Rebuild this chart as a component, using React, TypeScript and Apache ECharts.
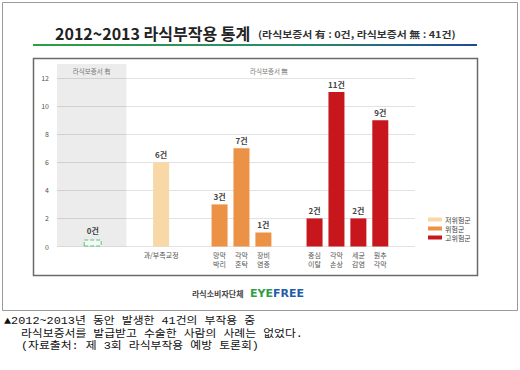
import React, { useEffect, useRef } from "react";
import * as echarts from "echarts";

// ---- data ----
const categories = ["과/부족교정", "망막\n박리", "각막\n혼탁", "장비\n염증", "중심\n이탈", "각막\n손상", "세균\n감염", "원추\n각막"];
const values = [6, 3, 7, 1, 2, 11, 2, 9];
const riskOf = [0, 1, 1, 1, 2, 2, 2, 2];
const riskNames = ["저위험군", "위험군", "고위험군"];
const riskColors = ["#f7d8a6", "#ec9246", "#c8161d"];
const warrantyCount = 0; // 라식보증서 有
const yTicks = [0, 2, 4, 6, 8, 10, 12];

// ---- layout (slot positions on the category axis) ----
const SLOT_COUNT = 98;
const catSlots = [28, 44, 50, 56, 70, 76, 82, 88];
const warrantySlot = 9;
const bandWithStart = 0;
const bandWithEnd = 18;
const bandWithoutEnd = SLOT_COUNT - 1;

const FONT = "'Noto Sans CJK KR', 'Noto Sans', sans-serif";
const CAPTION_FONT = "'Liberation Mono', 'Noto Sans CJK KR', monospace";

export default function App() {
  const ref = useRef<HTMLDivElement>(null);
  useEffect(() => {
    if (!ref.current) return;
    const chart = echarts.init(ref.current, null, { renderer: "svg" });
    const slotNames = Array.from({ length: SLOT_COUNT }, (_, i) => `s${i}`);
    const slotLabel: Record<string, string> = {};
    catSlots.forEach((s, i) => (slotLabel[`s${s}`] = categories[i]));

    const riskSeries = riskNames.map((name, r) => {
      const data: any[] = Array(SLOT_COUNT).fill("-");
      values.forEach((v, i) => {
        if (riskOf[i] === r) data[catSlots[i]] = v;
      });
      return {
        name,
        type: "bar",
        data,
        barWidth: 16,
        barGap: "-100%",
        itemStyle: { color: riskColors[r] },
        label: {
          show: true,
          position: "top",
          distance: 4,
          formatter: "{c}건",
          fontSize: 8,
          fontWeight: "bold",
          color: "#444",
          fontFamily: FONT,
        },
      };
    });

    const warrantyData: any[] = Array(SLOT_COUNT).fill("-");
    warrantyData[warrantySlot] = warrantyCount;

    const warrantySeries = {
      name: "보증서",
      type: "bar",
      data: warrantyData,
      barWidth: 18,
      barGap: "-100%",
      barMinHeight: 7,
      itemStyle: {
        color: "#f3fbf5",
        borderColor: "#5cc27b",
        borderWidth: 1,
        borderType: "dashed",
      },
      label: {
        show: true,
        position: "top",
        distance: 5,
        formatter: "{c}건",
        fontSize: 8,
        fontWeight: "bold",
        color: "#444",
        fontFamily: FONT,
      },
      markArea: {
        silent: true,
        data: [
          [
            {
              xAxis: `s${bandWithStart}`,
              yAxis: 0,
              itemStyle: { color: "rgba(0,0,0,0.075)" },
              label: {
                show: true,
                position: "insideTop",
                distance: 4,
                formatter: "라식보증서 有",
                fontSize: 6.5,
                color: "#777",
                fontFamily: FONT,
              },
            },
            { xAxis: `s${bandWithEnd}`, yAxis: 13 },
          ],
          [
            {
              xAxis: `s${bandWithEnd}`,
              yAxis: 0,
              itemStyle: { color: "rgba(0,0,0,0)" },
              label: {
                show: true,
                position: "insideTop",
                distance: 4,
                formatter: "라식보증서 無",
                fontSize: 6.5,
                color: "#777",
                fontFamily: FONT,
              },
            },
            { xAxis: `s${bandWithoutEnd}`, yAxis: 13 },
          ],
        ],
      },
    };

    const caption = [
      "▲2012~2013년 동안 발생한 41건의 부작용 중",
      "라식보증서를 발급받고 수술한 사람의 사례는 없었다.",
      "(자료출처: 제 3회 라식부작용 예방 토론회)",
    ];

    const captionRichBase = { fontSize: 11.5, lineHeight: 13.2, fill: "#111", fontFamily: CAPTION_FONT };

    chart.setOption({
      animation: false,
      backgroundColor: "#ffffff",
      textStyle: { fontFamily: FONT },
      grid: { left: 57, right: 105, top: 64, bottom: 123.5 },
      legend: {
        data: riskNames,
        orient: "vertical",
        left: 423,
        top: 210,
        itemWidth: 14,
        itemHeight: 4,
        itemGap: 0,
        icon: "rect",
        textStyle: { fontSize: 7, color: "#444", fontFamily: FONT, lineHeight: 9, padding: [0, 0, 0, -2] },
      },
      xAxis: {
        type: "category",
        data: slotNames,
        axisLine: { show: false },
        axisTick: { show: false },
        axisLabel: {
          interval: 0,
          margin: 4,
          fontSize: 7,
          lineHeight: 9,
          color: "#555",
          fontFamily: FONT,
          formatter: (v: string) => slotLabel[v] || "",
        },
      },
      yAxis: {
        type: "value",
        min: yTicks[0],
        max: 13,
        interval: yTicks[1] - yTicks[0],
        axisLine: { show: false },
        axisTick: { show: false },
        axisLabel: { fontSize: 7, color: "#555", margin: 8, showMaxLabel: false, fontFamily: FONT },
        splitLine: { showMaxLine: false, lineStyle: { color: "#e2e2e2", width: 1 } },
      },
      series: [warrantySeries, ...riskSeries],
      graphic: [
        {
          type: "rect",
          shape: { x: 2.5, y: 2.5, width: 515, height: 308 },
          style: { fill: "none", stroke: "#9a9a9a", lineWidth: 1 },
          silent: true,
        },
        {
          type: "text",
          x: 55,
          y: 33,
          style: {
            text: "2012~2013 라식부작용 통계",
            fontSize: 16,
            fontWeight: "bold",
            fill: "#222",
            fontFamily: FONT,
            verticalAlign: "middle",
          },
        },
        {
          type: "text",
          x: 258,
          y: 34,
          scaleX: 1.15,
          style: {
            text: "(라식보증서 有 : 0건, 라식보증서 無 : 41건)",
            fontSize: 9.5,
            fontWeight: "bold",
            fill: "#333",
            fontFamily: FONT,
            verticalAlign: "middle",
          },
        },
        {
          type: "rect",
          shape: { x: 33, y: 44, width: 444, height: 2 },
          style: {
            fill: new echarts.graphic.LinearGradient(0, 0, 1, 0, [
              { offset: 0, color: "#2f9e45" },
              { offset: 0.6, color: "#2b8a6a" },
              { offset: 1, color: "#23479c" },
            ]),
          },
          silent: true,
        },
        {
          type: "rect",
          shape: { x: 33.5, y: 58.5, width: 444, height: 217 },
          style: { fill: "none", stroke: "#6a6a6a", lineWidth: 1.5 },
          silent: true,
        },
        {
          type: "text",
          x: 192,
          y: 293,
          style: {
            text: "라식소비자단체",
            fontSize: 8,
            fontWeight: "bold",
            fill: "#444",
            fontFamily: FONT,
            verticalAlign: "middle",
          },
        },
        {
          type: "text",
          x: 250,
          y: 293,
          style: {
            text: "{g|EYE}{b|FREE}",
            verticalAlign: "middle",
            rich: {
              g: { fontSize: 11, fontWeight: "bold", fill: "#2e9e48", fontFamily: "'DejaVu Sans', sans-serif" },
              b: { fontSize: 11, fontWeight: "bold", fill: "#1f5da8", fontFamily: "'DejaVu Sans', sans-serif" },
            },
          },
        },
        {
          type: "text",
          x: 4,
          y: 315.5,
          scaleX: 1.03,
          scaleY: 0.93,
          style: {
            text: `{a|${caption[0]}}\n{i|${caption[1]}}\n{i|${caption[2]}}`,
            verticalAlign: "top",
            rich: {
              a: { ...captionRichBase },
              i: { ...captionRichBase, padding: [0, 0, 0, 16.5] },
            },
          },
        },
      ],
    });
    return () => chart.dispose();
  }, []);
  return <div ref={ref} style={{ position: "fixed", left: 0, top: 0, width: 520, height: 370 }} />;
}
